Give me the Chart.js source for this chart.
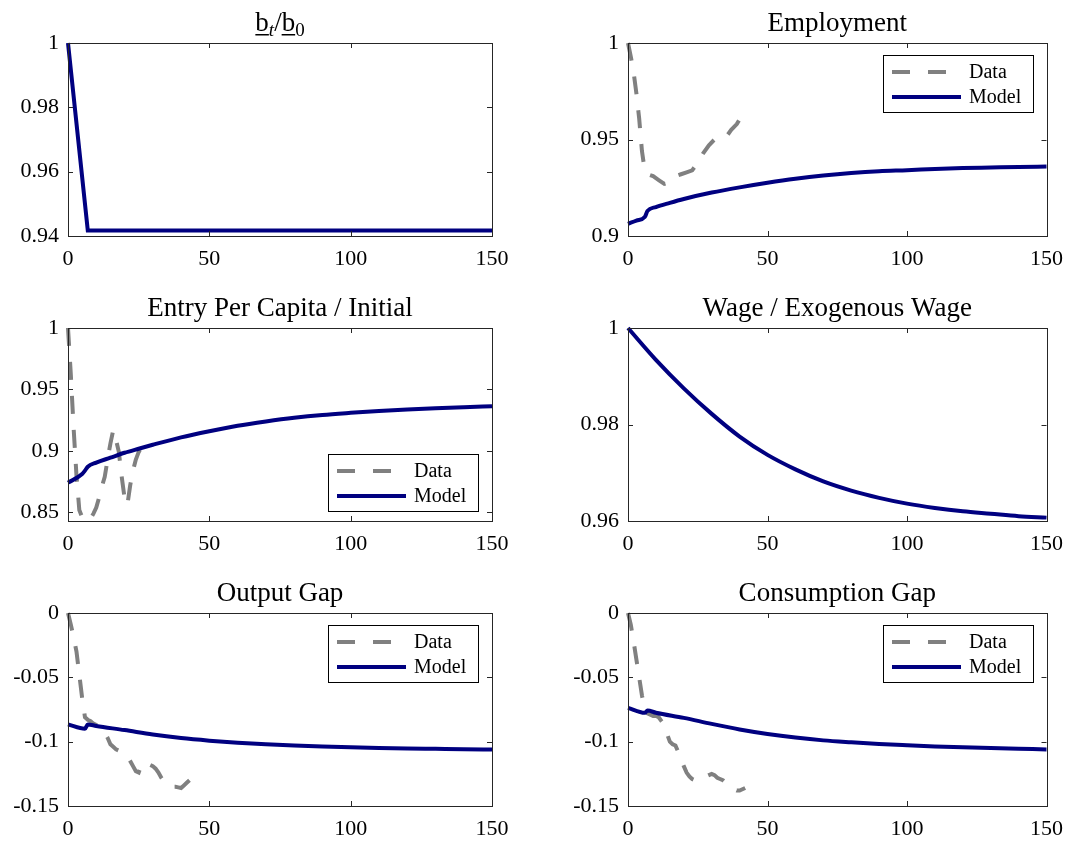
<!DOCTYPE html>
<html>
<head>
<meta charset="utf-8">
<script src="https://cdn.jsdelivr.net/npm/chart.js@4.4.0/dist/chart.umd.min.js"></script>
<style>
  body { margin: 0; background: #fff; }
  #wrap { position: relative; width: 1073px; height: 841px; }
  canvas { position: absolute; }
</style>
</head>
<body>
<div id="wrap">
  <canvas id="c1" width="536" height="280" style="left:0px;top:0px"></canvas>
  <canvas id="c2" width="537" height="280" style="left:536px;top:0px"></canvas>
  <canvas id="c3" width="536" height="280" style="left:0px;top:285px"></canvas>
  <canvas id="c4" width="537" height="280" style="left:536px;top:285px"></canvas>
  <canvas id="c5" width="536" height="280" style="left:0px;top:570px"></canvas>
  <canvas id="c6" width="537" height="280" style="left:536px;top:570px"></canvas>
</div>
<script>
// x axis ticks (periods)
const xTicks = [0, 50, 100, 150];

// b_t / b_0
const bT = [0, 7, 150];
const bY = [1.0, 0.9417, 0.9417];
const bTicks = [0.94, 0.96, 0.98, 1];
const bLabels = ['0.94', '0.96', '0.98', '1'];

// employment
const empDataT = [0, 1, 2, 3, 4, 5, 6, 7, 9, 11, 13, 15, 17, 19, 21, 23, 25, 27, 29, 31, 33, 35, 37, 39, 41];
const empDataY = [1.000, 0.993, 0.985, 0.974, 0.961, 0.944, 0.934, 0.932, 0.931, 0.929, 0.927, 0.928, 0.931, 0.932,
                  0.933, 0.934, 0.938, 0.943, 0.947, 0.950, 0.950, 0.951, 0.955, 0.958, 0.963];
const empModelT = [0, 3, 6, 7, 10, 15, 20, 30, 40, 50, 60, 70, 80, 90, 100, 110, 120, 130, 140, 150];
const empModelY = [0.9063, 0.9080, 0.9098, 0.9130, 0.9150, 0.9172, 0.9192, 0.9225, 0.9252, 0.9276, 0.9297,
                   0.9314, 0.9327, 0.9336, 0.9341, 0.9347, 0.9352, 0.9355, 0.9358, 0.9360];
const empTicks = [0.9, 0.95, 1];
const empLabels = ['0.9', '0.95', '1'];

// entry per capita / initial
const entDataT = [0, 1, 2, 3, 4, 5, 6, 7, 8, 9, 10, 11, 12, 13, 14, 15, 16, 17, 18, 19, 20, 21, 22, 23, 24, 25, 26, 27, 28];
const entDataY = [1.000, 0.962, 0.918, 0.880, 0.852, 0.846, 0.844, 0.843, 0.845, 0.849, 0.854, 0.862, 0.871, 0.879,
                  0.893, 0.906, 0.917, 0.909, 0.899, 0.879, 0.862, 0.856, 0.872, 0.884, 0.893, 0.899, 0.903, 0.907, 0.911];
const entModelT = [0, 5, 6, 7, 10, 15, 20, 25, 30, 40, 50, 60, 70, 80, 90, 100, 110, 120, 130, 140, 150];
const entModelY = [0.8742, 0.8812, 0.8840, 0.8872, 0.8905, 0.8945, 0.8985, 0.9018, 0.9050, 0.9110, 0.9160, 0.9205,
                   0.9240, 0.9270, 0.9293, 0.9310, 0.9325, 0.9338, 0.9348, 0.9356, 0.9363];
const entTicks = [0.85, 0.9, 0.95, 1];
const entLabels = ['0.85', '0.9', '0.95', '1'];

// wage / exogenous wage
const wageT = [0, 10, 20, 30, 40, 50, 60, 70, 80, 90, 100, 110, 120, 130, 140, 150];
const wageY = [1.0000, 0.9934, 0.9875, 0.9822, 0.9775, 0.9737, 0.9707, 0.9682, 0.9663, 0.9648, 0.9636, 0.9627,
               0.9620, 0.9615, 0.9610, 0.9607];
const wageTicks = [0.96, 0.98, 1];
const wageLabels = ['0.96', '0.98', '1'];

// output gap
const outDataT = [0, 1, 2, 3, 4, 5, 6, 7, 8, 9, 10, 11, 12, 13, 14, 15, 16, 17, 18, 19, 20, 21, 22, 23, 24, 25, 26,
                  27, 28, 29, 30, 31, 32, 33, 34, 35, 36, 37, 38, 39, 40, 41, 42, 43];
const outDataY = [0, -0.009, -0.019, -0.030, -0.048, -0.066, -0.081, -0.083, -0.084, -0.086, -0.087, -0.089, -0.091,
                  -0.093, -0.097, -0.102, -0.104, -0.106, -0.107, -0.1085, -0.110, -0.111, -0.115, -0.119, -0.123,
                  -0.124, -0.118, -0.116, -0.117, -0.118, -0.119, -0.121, -0.124, -0.128, -0.131, -0.133, -0.134,
                  -0.135, -0.135, -0.1355, -0.136, -0.134, -0.132, -0.130];
const outModelT = [0, 6, 7, 10, 20, 30, 40, 50, 60, 70, 80, 90, 100, 110, 120, 130, 140, 150];
const outModelY = [-0.0866, -0.0900, -0.0866, -0.0878, -0.0910, -0.0945, -0.0972, -0.0992, -0.1008, -0.1020,
                   -0.1030, -0.1038, -0.1044, -0.1049, -0.1053, -0.1056, -0.1059, -0.1061];

// consumption gap
const conDataT = [0, 1, 2, 3, 4, 5, 6, 7, 8, 9, 10, 11, 12, 13, 14, 15, 16, 17, 18, 19, 20, 21, 22, 23, 24, 25, 26,
                  27, 28, 29, 30, 31, 32, 33, 34, 35, 36, 37, 38, 39, 40, 41, 42];
const conDataY = [0, -0.009, -0.022, -0.036, -0.050, -0.064, -0.075, -0.078, -0.079, -0.080, -0.080, -0.081, -0.084,
                  -0.087, -0.094, -0.100, -0.102, -0.103, -0.108, -0.114, -0.119, -0.124, -0.127, -0.129, -0.130,
                  -0.130, -0.129, -0.128, -0.127, -0.126, -0.125, -0.126, -0.128, -0.129, -0.130, -0.132, -0.134,
                  -0.136, -0.137, -0.138, -0.138, -0.137, -0.136];
const conModelT = [0, 6, 7, 10, 20, 30, 40, 50, 60, 70, 80, 90, 100, 110, 120, 130, 140, 150];
const conModelY = [-0.0737, -0.0776, -0.0758, -0.0775, -0.0815, -0.0862, -0.0905, -0.0940, -0.0968, -0.0990,
                   -0.1005, -0.1018, -0.1028, -0.1037, -0.1044, -0.1050, -0.1055, -0.1060];

const gapTicks = [-0.15, -0.1, -0.05, 0];
const gapLabels = ['-0.15', '-0.1', '-0.05', '0'];

const NAVY = '#000080';
const GRAY = '#808080';
const FONT = '"Liberation Serif", "Times New Roman", serif';

Chart.defaults.font.family = FONT;
Chart.defaults.font.size = 22;
Chart.defaults.color = '#000';

function pts(xs, ys) {
  return xs.map(function(x, i) { return { x: x, y: ys[i] }; });
}

function dataSet(xs, ys) {
  return { label: 'Data', data: pts(xs, ys), borderColor: GRAY, borderWidth: 4, borderDash: [18, 16],
           pointRadius: 0, fill: false, clip: false, order: 2 };
}
function modelSet(xs, ys, straight) {
  const ds = { label: 'Model', data: pts(xs, ys), borderColor: NAVY, borderWidth: 4, pointRadius: 0,
               fill: false, clip: false, order: 1 };
  if (!straight) ds.cubicInterpolationMode = 'monotone';
  return ds;
}

// box round the axes with inward ticks, like the original figure
const framePlugin = {
  id: 'frame',
  afterDraw(chart) {
    const ctx = chart.ctx, a = chart.chartArea;
    const xs = chart.scales.x, ys = chart.scales.y;
    ctx.save();
    ctx.strokeStyle = '#262626';
    ctx.lineWidth = 1;
    ctx.strokeRect(Math.round(a.left) + 0.5, Math.round(a.top) + 0.5,
                   Math.round(a.right - a.left), Math.round(a.bottom - a.top));
    ctx.beginPath();
    xs.ticks.forEach(function(t) {
      const px = Math.round(xs.getPixelForValue(t.value)) + 0.5;
      ctx.moveTo(px, a.bottom); ctx.lineTo(px, a.bottom - 5);
      ctx.moveTo(px, a.top); ctx.lineTo(px, a.top + 5);
    });
    ys.ticks.forEach(function(t) {
      const py = Math.round(ys.getPixelForValue(t.value)) + 0.5;
      ctx.moveTo(a.left, py); ctx.lineTo(a.left + 5, py);
      ctx.moveTo(a.right, py); ctx.lineTo(a.right - 5, py);
    });
    ctx.stroke();
    ctx.restore();
  }
};

// panel titles, the first one with underlined b and subscripts
const titlePlugin = {
  id: 'panelTitle',
  afterDraw(chart, args, opts) {
    const ctx = chart.ctx, a = chart.chartArea;
    const cx = (a.left + a.right) / 2, by = a.top - 12;
    ctx.save();
    ctx.fillStyle = '#000';
    ctx.textBaseline = 'alphabetic';
    if (opts.parts) {
      const big = '27px ' + FONT, small = '19px ' + FONT, smallIt = 'italic 19px ' + FONT;
      let total = 0;
      opts.parts.forEach(function(p) {
        ctx.font = p.sub ? (p.it ? smallIt : small) : big;
        p.w = ctx.measureText(p.t).width;
        total += p.w;
      });
      let x = cx - total / 2;
      ctx.textAlign = 'left';
      opts.parts.forEach(function(p) {
        ctx.font = p.sub ? (p.it ? smallIt : small) : big;
        const y = p.sub ? by + 5 : by;
        ctx.fillText(p.t, x, y);
        if (p.u) ctx.fillRect(x, by + 3, p.w, 1.5);
        x += p.w;
      });
    } else if (opts.text) {
      ctx.font = '27px ' + FONT;
      ctx.textAlign = 'center';
      ctx.fillText(opts.text, cx, by);
    }
    ctx.restore();
  }
};

// boxed legend inside the axes
const legendPlugin = {
  id: 'boxLegend',
  afterDraw(chart, args, opts) {
    if (!opts.corner) return;
    const ctx = chart.ctx, a = chart.chartArea;
    const w = 150, h = 57;
    const x0 = Math.round(a.right - 14 - w);
    const y0 = Math.round(opts.corner === 'top' ? a.top + 12 : a.bottom - 10 - h);
    ctx.save();
    ctx.fillStyle = '#fff';
    ctx.fillRect(x0, y0, w, h);
    ctx.strokeStyle = '#000';
    ctx.lineWidth = 1;
    ctx.strokeRect(x0 + 0.5, y0 + 0.5, w, h);
    chart.data.datasets.forEach(function(ds, i) {
      const yy = y0 + 17 + i * 25;
      ctx.beginPath();
      ctx.setLineDash(ds.borderDash ? [18, 18] : []);
      ctx.strokeStyle = ds.borderColor;
      ctx.lineWidth = ds.borderWidth;
      ctx.moveTo(x0 + 9, yy);
      ctx.lineTo(x0 + 78, yy);
      ctx.stroke();
      ctx.setLineDash([]);
      ctx.fillStyle = '#000';
      ctx.font = '20px ' + FONT;
      ctx.textAlign = 'left';
      ctx.textBaseline = 'middle';
      ctx.fillText(ds.label, x0 + 86, yy + 1);
    });
    ctx.restore();
  }
};

function makePanel(id, right, datasets, yMin, yMax, yTicks, yLabels, title, legendCorner) {
  const ctx = document.getElementById(id).getContext('2d');
  return new Chart(ctx, {
    type: 'line',
    data: { datasets: datasets },
    plugins: [framePlugin, titlePlugin, legendPlugin],
    options: {
      responsive: false,
      animation: false,
      devicePixelRatio: 1,
      layout: { padding: { top: 43, left: 0, right: right ? 21 : 44, bottom: 0 } },
      plugins: {
        legend: { display: false },
        tooltip: { enabled: false },
        panelTitle: title,
        boxLegend: { corner: legendCorner }
      },
      scales: {
        x: {
          type: 'linear', min: 0, max: 150,
          grid: { display: false, drawTicks: false },
          border: { display: false },
          afterBuildTicks: function(s) { s.ticks = xTicks.map(function(v) { return { value: v }; }); },
          afterFit: function(s) { s.height = 44; },
          ticks: { padding: 10, maxRotation: 0, autoSkip: false }
        },
        y: {
          type: 'linear', min: yMin, max: yMax,
          grid: { display: false, drawTicks: false },
          border: { display: false },
          afterBuildTicks: function(s) { s.ticks = yTicks.map(function(v) { return { value: v }; }); },
          afterFit: function(s) { s.width = right ? 92 : 68; },
          ticks: {
            padding: 9, autoSkip: false,
            callback: function(v, i) { return yLabels[i]; }
          }
        }
      }
    }
  });
}

makePanel('c1', false, [modelSet(bT, bY, true)], 0.94, 1, bTicks, bLabels,
  { parts: [{ t: 'b', u: true }, { t: 't', sub: true, it: true }, { t: '/' }, { t: 'b', u: true }, { t: '0', sub: true }] }, null);

makePanel('c2', true, [dataSet(empDataT, empDataY), modelSet(empModelT, empModelY)], 0.9, 1, empTicks, empLabels,
  { text: 'Employment' }, 'top');

makePanel('c3', false, [dataSet(entDataT, entDataY), modelSet(entModelT, entModelY)], 0.843, 1, entTicks, entLabels,
  { text: 'Entry Per Capita / Initial' }, 'bottom');

makePanel('c4', true, [modelSet(wageT, wageY)], 0.96, 1, wageTicks, wageLabels,
  { text: 'Wage / Exogenous Wage' }, null);

makePanel('c5', false, [dataSet(outDataT, outDataY), modelSet(outModelT, outModelY)], -0.15, 0, gapTicks, gapLabels,
  { text: 'Output Gap' }, 'top');

makePanel('c6', true, [dataSet(conDataT, conDataY), modelSet(conModelT, conModelY)], -0.15, 0, gapTicks, gapLabels,
  { text: 'Consumption Gap' }, 'top');
</script>
</body>
</html>
